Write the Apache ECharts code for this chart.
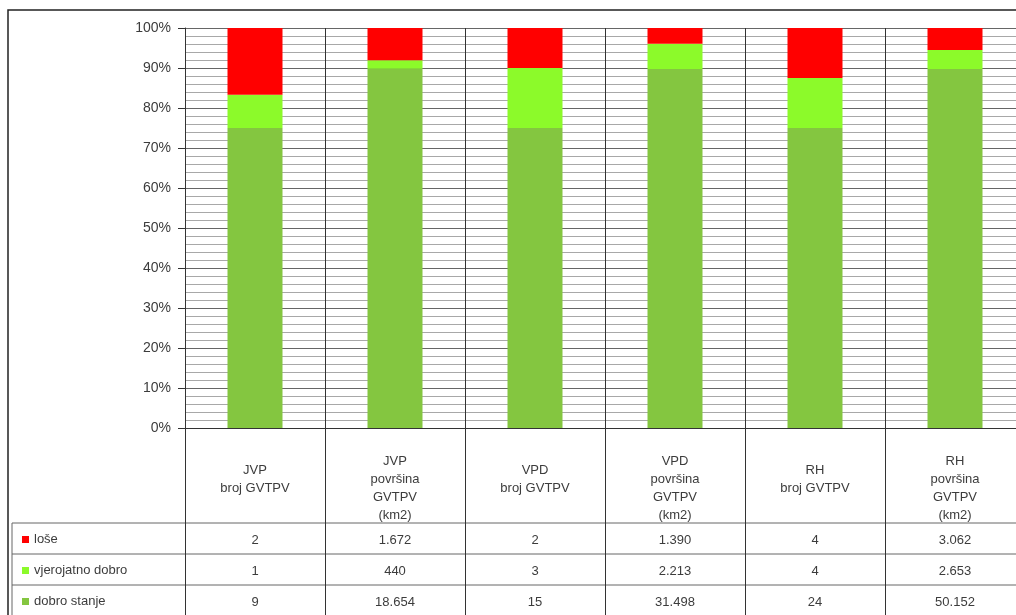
<!DOCTYPE html>
<html>
<head>
<meta charset="utf-8">
<script src="https://cdn.jsdelivr.net/npm/echarts@6/dist/echarts.min.js"></script>
<style>
  html, body { margin: 0; padding: 0; background: #fff; overflow: hidden; }
  /* the last column runs past the right edge of the page */
  #chart { width: 1040px; height: 615px; }
</style>
</head>
<body>
<div id="chart"></div>
<script>
// Column headings of the table (one per stacked column)
const categories = [
  'JVP\nbroj GVTPV',
  'JVP\npovršina\nGVTPV\n(km2)',
  'VPD\nbroj GVTPV',
  'VPD\npovršina\nGVTPV\n(km2)',
  'RH\nbroj GVTPV',
  'RH\npovršina\nGVTPV\n(km2)'
];

// Status classes, listed top row first as in the table
const seriesNames = ['loše', 'vjerojatno dobro', 'dobro stanje'];

// Counts / areas per status
const lose = [2, 1672, 2, 1390, 4, 3062];
const vjerojatnoDobro = [1, 440, 3, 2213, 4, 2653];
const dobroStanje = [9, 18654, 15, 31498, 24, 50152];

const colors = { 'loše': '#ff0000', 'vjerojatno dobro': '#8cfa2a', 'dobro stanje': '#84c640' };

const FONT = 'Liberation Sans, Arial, sans-serif';
const TXT = '#3c3c3c';

// Share of each class within its column (100 % stacked)
const totals = categories.map((_, i) => lose[i] + vjerojatnoDobro[i] + dobroStanje[i]);
const share = arr => arr.map((v, i) => v / totals[i] * 100);

// Croatian number format: dot as thousands separator
const fmt = n => String(n).replace(/\B(?=(\d{3})+(?!\d))/g, '.');

const chart = echarts.init(document.getElementById('chart'), null, { renderer: 'canvas' });

const gridLeft = 185, gridTop = 28, colW = 140, plotH = 400;
const rowTop = [523, 554, 585];
const rowH = 31;
const W = 1040;

function rowAxis(values, offset) {
  return {
    type: 'category',
    gridIndex: 0,
    position: 'bottom',
    offset: offset,
    data: values.map(fmt),
    axisLine: { show: false },
    axisTick: { show: false },
    splitLine: { show: false },
    axisLabel: {
      interval: 0, margin: 17, verticalAlign: 'middle',
      fontSize: 13, fontFamily: FONT, color: TXT
    }
  };
}

// one legend block per table row, sitting in the row's first cell
const legends = seriesNames.map((name, i) => ({
  orient: 'vertical',
  left: 22, top: rowTop[i] + 9,
  padding: 0,
  data: [name],
  icon: 'rect',
  itemWidth: 7, itemHeight: 7,
  textStyle: { fontSize: 13, fontFamily: FONT, color: TXT, lineHeight: 15 },
  selectedMode: false
}));

const option = {
  animation: false,
  backgroundColor: '#fff',
  grid: { left: gridLeft, top: gridTop, width: colW * categories.length, height: plotH, containLabel: false },
  legend: legends,
  xAxis: [
    {
      type: 'category',
      gridIndex: 0,
      position: 'bottom',
      data: categories,
      axisLine: { show: true, lineStyle: { color: '#333', width: 1 } },
      axisTick: { show: true, interval: 0, length: 187, lineStyle: { color: '#333', width: 1 } },
      splitLine: { show: true, interval: 0, lineStyle: { color: '#333', width: 1 } },
      axisLabel: {
        interval: 0, margin: 60, verticalAlign: 'middle', lineHeight: 18,
        fontSize: 13, fontFamily: FONT, color: TXT,
        // two-line headings sit higher in the cell than the four-line ones
        formatter: v => v.split('\n').length === 2 ? v + '\n' : v
      }
    },
    rowAxis(lose, 95),
    rowAxis(vjerojatnoDobro, 126),
    rowAxis(dobroStanje, 157)
  ],
  yAxis: {
    type: 'value',
    min: 0, max: 100, interval: 10,
    axisLine: { show: true, lineStyle: { color: '#333', width: 1 } },
    axisTick: { show: true, length: 7, lineStyle: { color: '#333' } },
    axisLabel: { formatter: '{value}%', margin: 14, fontSize: 14, fontFamily: FONT, color: TXT },
    splitLine: { show: true, lineStyle: { color: '#666', width: 1 } },
    minorTick: { show: false, splitNumber: 5 },
    minorSplitLine: { show: true, lineStyle: { color: '#a8a8a8', width: 1 } }
  },
  series: [
    { name: 'dobro stanje', data: share(dobroStanje) },
    { name: 'vjerojatno dobro', data: share(vjerojatnoDobro) },
    { name: 'loše', data: share(lose) }
  ].map(s => ({
    type: 'bar', stack: 'total', name: s.name, data: s.data,
    barWidth: 55, itemStyle: { color: colors[s.name] }
  })),
  graphic: [
    // outer frame
    { type: 'rect', shape: { x: 8, y: 10, width: 1200, height: 800 },
      style: { fill: null, stroke: '#222', lineWidth: 1.5 }, silent: true },
    // table row rules
    ...rowTop.map(y => ({ type: 'line', shape: { x1: 12, y1: y, x2: W, y2: y },
      style: { stroke: '#666', lineWidth: 1 }, silent: true })),
    // left edge of the legend cells
    { type: 'line', shape: { x1: 12, y1: rowTop[0], x2: 12, y2: rowTop[2] + rowH },
      style: { stroke: '#666', lineWidth: 1 }, silent: true }
  ]
};

chart.setOption(option);
</script>
</body>
</html>
